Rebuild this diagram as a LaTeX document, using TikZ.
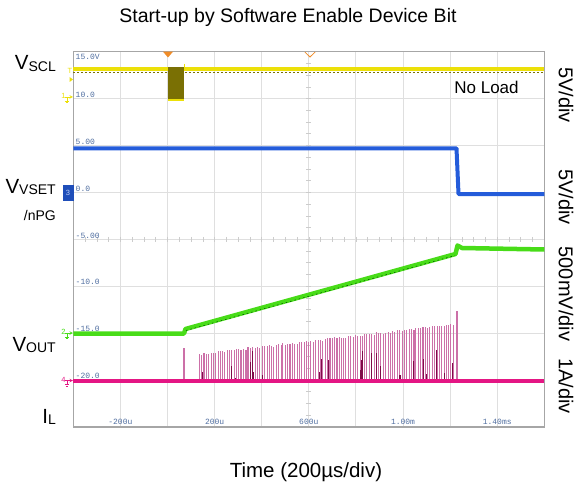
\documentclass[tikz,border=0pt]{standalone}
\usepackage{fontspec}
\setmainfont{Liberation Sans}
\newfontfamily\scopefont{Liberation Mono}
\usetikzlibrary{positioning}

\definecolor{sclcol}{RGB}{236,224,8}
\definecolor{burstcol}{RGB}{122,112,4}
\definecolor{vsetcol}{RGB}{36,92,218}
\definecolor{voutcol}{RGB}{72,220,24}
\definecolor{ilcol}{RGB}{228,22,132}
\definecolor{spikecol}{RGB}{204,112,168}
\definecolor{spikedark}{RGB}{128,10,72}
\definecolor{numcol}{RGB}{80,110,160}
\definecolor{trigcol}{RGB}{240,140,40}

% signal name with a slightly lowered subscript
\newcommand\signame[2]{#1\raisebox{-1.5pt}{\fontsize{14}{14}\selectfont #2}}

\begin{document}
\begin{tikzpicture}[x=1pt, y=-1pt, >=stealth,
    gridline/.style={draw=gray!25, line width=1pt},
    axisnum/.style={text=numcol, inner sep=0pt, font=\scopefont\fontsize{8}{8}\selectfont},
    siglabel/.style={anchor=base east, inner sep=0pt, font=\fontsize{20.5}{20.5}\selectfont},
    divlabel/.style={rotate=-90, inner sep=0pt, font=\fontsize{20}{20}\selectfont},
    chnum/.style={inner sep=0pt, font=\fontsize{7.5}{7.5}\selectfont},
    spike/.style={draw=spikecol, line width=1.1pt}]
    \useasboundingbox (0,0) rectangle (577,489);
    \def\gl{73.3} \def\gr{544.3} \def\gt{51.7} \def\gb{427}
    \def\dx{47.1} \def\dy{46.9}
    % grid
    \foreach \i in {1,...,9}
        \draw[gridline] ({\gl+\i*\dx},\gt) -- ({\gl+\i*\dx},\gb);
    \foreach \j in {1,...,7}
        \draw[gridline] (\gl,{\gt+\j*\dy}) -- (\gr,{\gt+\j*\dy});
    % minor ticks on the centre lines
    \foreach \k in {1,...,39}
        \draw[gray!40, line width=0.6pt] ({\gl+\k*\dx/4},{\gt+4*\dy-2.5}) -- ({\gl+\k*\dx/4},{\gt+4*\dy+2.5});
    \foreach \k in {1,...,31}
        \draw[gray!40, line width=0.6pt] ({\gl+5*\dx-2.5},{\gt+\k*\dy/4}) -- ({\gl+5*\dx+2.5},{\gt+\k*\dy/4});
    % frame
    \draw[gray!70, line width=1.4pt] (\gl,\gt) rectangle (\gr,\gb);

    % volt labels on the left
    \node[axisnum, anchor=north west] (n0) at (75.5,53.5) {15.0V};
    \foreach \j/\txt in {1/10.0, 2/5.00, 3/0.0, 4/-5.00, 5/-10.0, 6/-15.0, 7/-20.0}
        \node[axisnum, anchor=base west] (n\j) at (75.5,{\gt+\j*\dy-1.3}) {\txt};
    % time labels at the bottom
    \foreach \i/\txt in {1/-200u, 3/200u, 5/600u, 7/1.00m, 9/1.40ms}
        \node[axisnum, anchor=base] (t\i) at ({\gl+\i*\dx},424.8) {\txt};

    % trigger markers
    \fill[trigcol] (163,\gt) -- (173,\gt) -- (168,57.5) -- cycle;
    \draw[trigcol, line width=0.8pt] (305,\gt+0.5) -- (310,57) -- (315,\gt+0.5);

    % VSCL trace with the I2C burst
    \draw[sclcol, line width=4pt] (\gl,69) -- (\gr,69);
    \draw[burstcol, line width=0.7pt, dash pattern=on 1.5pt off 2.5pt] (\gl,72) -- (\gr,72);
    \fill[burstcol] (168,67) rectangle (184,101);
    \draw[sclcol, line width=2pt] (168,99.6) -- (184,99.6);
    \draw[sclcol, line width=0.8pt] (184,64) -- (184,70);

    % VSET/nPG trace
    \draw[vsetcol, line width=4pt, line join=round] (\gl,148.3) -- (456.5,148.3) -- (458.5,194) -- (\gr,194);

    % VOUT trace
    \draw[voutcol, line width=4.5pt, line join=round] (\gl,333.5) -- (184,333.5) -- (185.5,329) -- (455.5,254) -- (457.5,245.5) -- (462,248) -- (\gr,249.5);
    \draw[green!35!black, line width=0.6pt, dash pattern=on 1.5pt off 3pt] (186,330.5) -- (455,255.5);

    % IL switching spikes
    \pgfmathsetseed{42}
    \draw[spike] (184,381) -- (184,348);
    \foreach \k in {0,...,109} {
        \pgfmathsetmacro\xs{199+\k*2.33+0.6*rnd}
        \pgfmathsetmacro\ys{353-(\xs-199)*0.118+2.5*rnd}
        \draw[spike] (\xs,381) -- (\xs,\ys);
    }
    \foreach \k in {0,...,24} {
        \pgfmathsetmacro\xs{200+255*rnd}
        \pgfmathsetmacro\ys{378-28*rnd}
        \draw[spikedark, line width=0.8pt] (\xs,381) -- (\xs,\ys);
    }
    \draw[spike] (457,381) -- (457,311);
    \draw[ilcol, line width=3.5pt] (\gl,381) -- (\gr,381);

    % channel markers
    \node[text=sclcol, chnum] (mkT) at (70,71) {T};
    \fill[sclcol] (69.5,77) -- (73,79.5) -- (69.5,82) -- cycle;
    \foreach \yy/\n/\col in {97/1/sclcol, 333/2/voutcol, 380.5/4/ilcol} {
        \node[text=\col, chnum] (mk\n) at (63.5,\yy-1) {\n};
        \draw[\col, line width=0.6pt, ->] (65,\yy) -- (73,\yy);
        \draw[\col, line width=0.6pt] (67,\yy) -- (67,\yy+4) (64.8,\yy+4) -- (69.2,\yy+4) (65.8,\yy+5.6) -- (68.2,\yy+5.6);
    }
    \node[fill=vsetcol!85!black, text=vsetcol!30, minimum width=11pt, minimum height=16pt, inner sep=0pt,
          font=\fontsize{7.5}{7.5}\selectfont] (mk3) at (68,192.5) {3};

    % texts
    \node[anchor=base, inner sep=0pt, font=\fontsize{19.5}{19.5}\selectfont] (title) at (288,23) {Start-up by Software Enable Device Bit};
    \node[anchor=base, inner sep=0pt, font=\fontsize{20.5}{20.5}\selectfont] (timelabel) at (306,477) {Time (200µs/div)};
    \node[anchor=base, inner sep=0pt, font=\fontsize{17}{17}\selectfont] (noload) at (486.5,94) {No Load};
    \node[siglabel] (vscl) at (56,70) {\signame{V}{SCL}};
    \node[siglabel] (vvset) at (56,193) {\signame{V}{VSET}};
    \node[siglabel, font=\fontsize{14}{14}\selectfont] (npg) at (56,220) {/nPG};
    \node[siglabel] (vout) at (56,351) {\signame{V}{OUT}};
    \node[siglabel] (il) at (56,423) {\signame{I}{L}};
    \node[divlabel] (div1) at (566,95) {5V/div};
    \node[divlabel] (div2) at (566,197) {5V/div};
    \node[divlabel] (div3) at (566,294) {500mV/div};
    \node[divlabel] (div4) at (566,386) {1A/div};
\end{tikzpicture}
\end{document}
